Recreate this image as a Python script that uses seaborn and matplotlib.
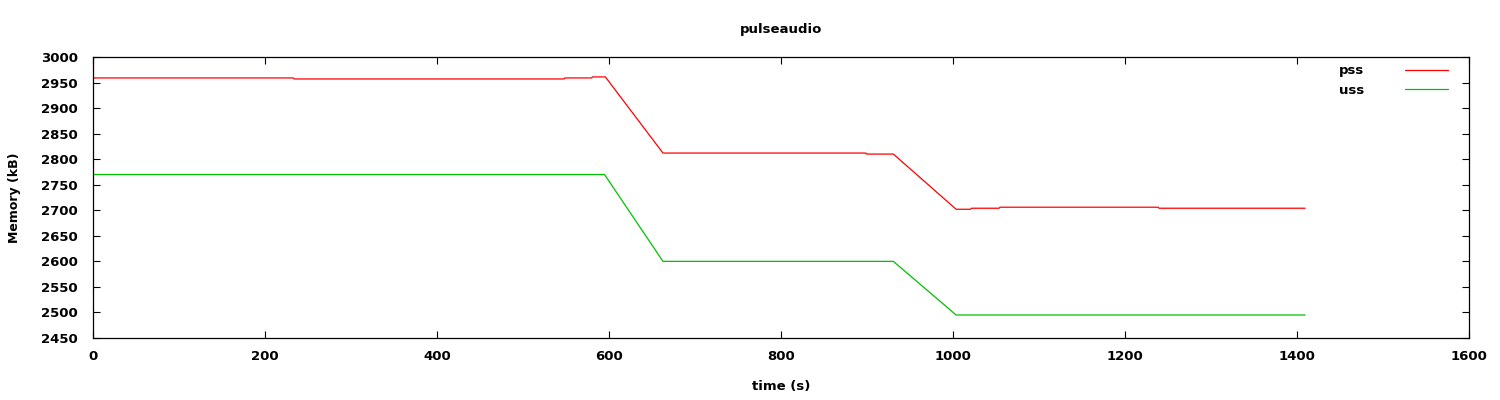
import matplotlib
matplotlib.use("Agg")
import matplotlib.pyplot as plt
import seaborn as sns
import pandas as pd
from matplotlib.ticker import MultipleLocator

# ---- data ----
pss_time = [0, 233, 234, 548, 549, 580, 581, 596, 663, 899, 900, 931, 1004, 1021, 1022, 1054, 1055, 1239, 1240, 1410]
pss_kb = [2959, 2959, 2957, 2957, 2959, 2959, 2961, 2961, 2812, 2812, 2810, 2810, 2702, 2702, 2704, 2704, 2706, 2706, 2704, 2704]
uss_time = [0, 595, 663, 931, 1004, 1410]
uss_kb = [2770, 2770, 2600, 2600, 2495, 2495]
series_names = ["pss", "uss"]
series_colors = ["#ff0000", "#00c000"]
title = "pulseaudio"
xlabel = "time (s)"
ylabel = "Memory (kB)"

df = pd.concat([
    pd.DataFrame({"time": pss_time, "mem": pss_kb, "series": series_names[0]}),
    pd.DataFrame({"time": uss_time, "mem": uss_kb, "series": series_names[1]}),
], ignore_index=True)

sns.set_theme(style="ticks")
plt.rcParams["font.family"] = ["DejaVu Sans"]
plt.rcParams["text.color"] = "black"
plt.rcParams["axes.labelcolor"] = "black"

fig = plt.figure(figsize=(15, 4), dpi=100)
ax = fig.add_axes([0.062, 0.155, 0.917, 0.7025])

sns.lineplot(data=df, x="time", y="mem", hue="series", palette=dict(zip(series_names, series_colors)),
             sort=False, estimator=None, linewidth=0.9, ax=ax)

ax.set_xlim(0, 1600)
ax.set_ylim(2450, 3000)
ax.xaxis.set_major_locator(MultipleLocator(200))
ax.yaxis.set_major_locator(MultipleLocator(50))
ax.tick_params(direction="in", length=5, width=0.8, top=True, right=True,
               labelsize=9.5, colors="black")
ax.tick_params(axis="x", pad=9)
ax.tick_params(axis="y", pad=11)
for lab in ax.get_xticklabels() + ax.get_yticklabels():
    lab.set_fontweight("bold")
for s in ax.spines.values():
    s.set_visible(True)
    s.set_linewidth(0.9)
    s.set_color("black")

ax.set_title(title, fontsize=9.5, fontweight="bold", pad=17.5, color="black")
ax.set_xlabel(xlabel, fontsize=9.5, fontweight="bold", labelpad=12)
ax.set_ylabel(ylabel, fontsize=9, fontweight="bold", labelpad=14)

leg = ax.legend(loc="upper right", frameon=False, markerfirst=False, fontsize=9.5,
                handlelength=3.3, bbox_to_anchor=(0.994, 1.016), labelspacing=0.5, handletextpad=3.1)
for t in leg.get_texts():
    t.set_fontweight("bold")
    t.set_color("black")

fig.savefig("out.png", dpi=100)
